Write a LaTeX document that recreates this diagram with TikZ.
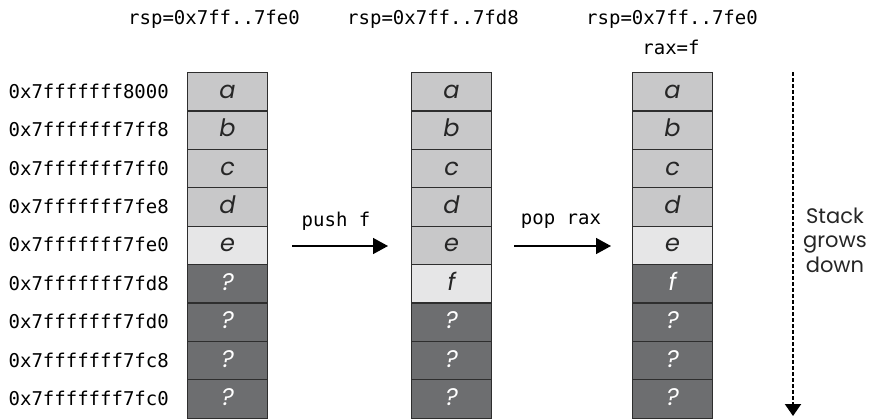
\documentclass[tikz,border=0pt]{standalone}
\usepackage{fontspec}
\setmainfont{Poppins}
\setmonofont{DejaVu Sans Mono}
\usetikzlibrary{arrows.meta}
\definecolor{midg}{HTML}{C8C8C9}
\definecolor{lightg}{HTML}{E6E6E7}
\definecolor{darkg}{HTML}{6D6E70}
\definecolor{edgec}{HTML}{2E2E2E}
\begin{document}
\begin{tikzpicture}[x=1pt,y=-1pt,
  cell/.style={draw=edgec,line width=1.1pt,minimum width=80pt,minimum height=38.4pt,
    anchor=north west,inner sep=0pt,text height=13pt,text depth=0pt,
    font=\fontsize{24}{24}\selectfont\itshape},
  mid/.style={cell,fill=midg,text=black!85},
  lite/.style={cell,fill=lightg,text=black!85},
  dark/.style={cell,fill=darkg,text=white},
  addr/.style={anchor=east,inner sep=0pt,font=\fontsize{19}{19}\selectfont\ttfamily},
  mono/.style={inner sep=0pt,font=\fontsize{19}{19}\selectfont\ttfamily},
  oparrow/.style={line width=1.5pt,-{Triangle[length=15pt,width=16pt]}}]
\useasboundingbox (0,0) rectangle (876,418);
% addresses
\foreach \i/\t in {0/0x7fffffff8000,1/0x7fffffff7ff8,2/0x7fffffff7ff0,3/0x7fffffff7fe8,4/0x7fffffff7fe0,5/0x7fffffff7fd8,6/0x7fffffff7fd0,7/0x7fffffff7fc8,8/0x7fffffff7fc0}
  \node[addr] (ad\i) at (169,{72+38.4*\i+19.2}) {\t};
% column 1
\foreach \i/\s/\t in {0/mid/a,1/mid/b,2/mid/c,3/mid/d,4/lite/e,5/dark/?,6/dark/?,7/dark/?,8/dark/?}
  \node[\s] (ca\i) at (187,{72+38.4*\i}) {\t};
% column 2
\foreach \i/\s/\t in {0/mid/a,1/mid/b,2/mid/c,3/mid/d,4/mid/e,5/lite/f,6/dark/?,7/dark/?,8/dark/?}
  \node[\s] (cb\i) at (411,{72+38.4*\i}) {\t};
% column 3
\foreach \i/\s/\t in {0/mid/a,1/mid/b,2/mid/c,3/mid/d,4/lite/e,5/dark/f,6/dark/?,7/dark/?,8/dark/?}
  \node[\s] (cc\i) at (632,{72+38.4*\i}) {\t};
% headers
\node[mono] (h1) at (214,19) {rsp=0x7ff..7fe0};
\node[mono] (h2) at (433,19) {rsp=0x7ff..7fd8};
\node[mono] (h3) at (672,19) {rsp=0x7ff..7fe0};
\node[mono] (h4) at (671,47) {rax=f};
% operations
\coordinate (p1) at (292,246);
\coordinate (p2) at (388,246);
\coordinate (q1) at (514,246);
\coordinate (q2) at (611,246);
\draw[oparrow] (p1) -- (p2);
\draw[oparrow] (q1) -- (q2);
\node[mono] (push) at (336,221) {push f};
\node[mono] (pop) at (561,221) {pop rax};
% growth direction
\coordinate (g1) at (793,72);
\coordinate (g2) at (793,416);
\draw[line width=2pt,dash pattern=on 3.5pt off 2.5pt,-{Triangle[length=12pt,width=16pt]}] (g1) -- (g2);
\node[align=center,inner sep=0pt,font=\fontsize{21}{24.5}\selectfont,text=black!85] (grow) at (835,240) {Stack\\grows\\down};
\end{tikzpicture}
\end{document}
